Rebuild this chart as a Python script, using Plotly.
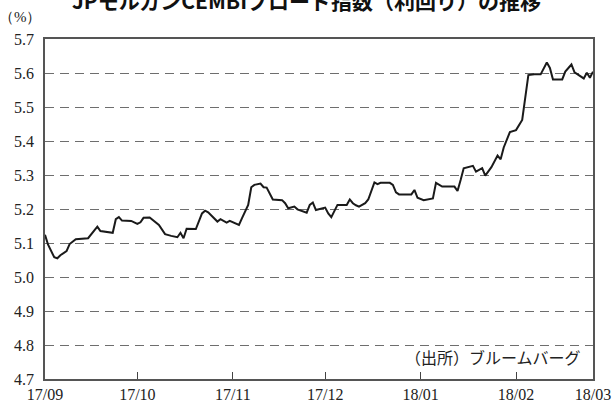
import pandas as pd
import plotly.graph_objects as go

# Days since 2017-09-01 and yield values (%)
day_offsets = [0, 1, 3, 4, 5, 7, 8, 10, 14, 17, 18, 22, 23, 24, 25, 28, 30, 31, 32, 34,
               37, 39, 41, 43, 44, 45, 46, 49, 51, 52, 53, 56, 57, 58, 59, 60, 63, 64, 66, 67,
               68, 70, 71, 72, 74, 77, 78, 79, 81, 82, 85, 86, 87, 88, 91, 92, 93, 95, 98, 99,
               100, 101, 102, 104, 105, 107, 108, 109, 112, 113, 114, 115, 119, 120, 121, 123, 126, 127, 129, 133,
               134, 135, 136, 139, 140, 142, 143, 145, 147, 148, 149, 151, 153, 155, 156, 157, 159, 161, 163, 164,
               165, 168, 169, 171, 172, 175, 176, 177, 178]
yields = [5.124, 5.095, 5.058, 5.055, 5.064, 5.076, 5.097, 5.111, 5.114, 5.148, 5.135, 5.130, 5.170, 5.176, 5.166, 5.165, 5.156, 5.161, 5.174, 5.175,
          5.153, 5.126, 5.121, 5.117, 5.130, 5.114, 5.142, 5.141, 5.187, 5.195, 5.190, 5.163, 5.170, 5.166, 5.160, 5.165, 5.153, 5.173, 5.212, 5.264,
          5.271, 5.275, 5.264, 5.263, 5.228, 5.226, 5.217, 5.202, 5.207, 5.199, 5.189, 5.212, 5.219, 5.197, 5.204, 5.187, 5.176, 5.212, 5.212, 5.228,
          5.217, 5.211, 5.207, 5.217, 5.228, 5.278, 5.273, 5.277, 5.277, 5.271, 5.249, 5.243, 5.243, 5.256, 5.233, 5.226, 5.231, 5.277, 5.266, 5.266,
          5.253, 5.285, 5.320, 5.327, 5.310, 5.320, 5.298, 5.323, 5.357, 5.346, 5.381, 5.426, 5.432, 5.462, 5.526, 5.594, 5.596, 5.596, 5.631, 5.615,
          5.581, 5.581, 5.604, 5.625, 5.602, 5.584, 5.601, 5.586, 5.604]

start_date = "2017-09-01"
end_date = "2018-02-26"
tick_dates = ["2017-09-01", "2017-10-01", "2017-11-01", "2017-12-01", "2018-01-01", "2018-02-01", "2018-02-26"]
tick_labels = ["17/09", "17/10", "17/11", "17/12", "18/01", "18/02", "18/03"]
y_ticks = [4.7, 4.8, 4.9, 5.0, 5.1, 5.2, 5.3, 5.4, 5.5, 5.6, 5.7]

dates = pd.Timestamp(start_date) + pd.to_timedelta(day_offsets, unit="D")

serif = "Liberation Serif"

fig = go.Figure()
fig.add_trace(go.Scatter(x=dates, y=yields, mode="lines",
                         line=dict(color="#1a1a1a", width=2), showlegend=False))

fig.update_layout(
    width=613, height=403,
    margin=dict(l=45, r=20, t=39, b=24),
    paper_bgcolor="white", plot_bgcolor="white",
    title=dict(text="<b>JPモルガンCEMBIブロード指数（利回り）の推移</b>",
               x=0.5, xref="container", y=0.995, yref="container",
               xanchor="center", yanchor="middle",
               font=dict(family="Noto Sans CJK JP", size=21, color="#111")),
    xaxis=dict(type="date", range=[start_date, end_date], automargin=False,
               tickvals=tick_dates, ticktext=tick_labels, ticklabeloverflow="allow",
               showgrid=False, ticks="inside", ticklen=7, tickcolor="#444", tickwidth=1.3,
               showline=True, linecolor="#555", linewidth=1.5, mirror=True,
               tickfont=dict(family=serif, size=16, color="#222"), zeroline=False),
    yaxis=dict(range=[4.7, 5.7], tickvals=y_ticks, tickformat=".1f", automargin=False,
               showgrid=True, gridcolor="#6e6e6e", gridwidth=1.3, griddash="9px,6px",
               showline=True, linecolor="#555", linewidth=1.5, mirror=True, ticks="",
               ticklabelstandoff=6,
               tickfont=dict(family=serif, size=16, color="#222"), zeroline=False),
    annotations=[
        dict(text="（%）", xref="paper", yref="paper", x=-0.045, y=1.065,
             xanchor="center", yanchor="middle", showarrow=False,
             font=dict(family=serif, size=15, color="#222")),
        dict(text="（出所）ブルームバーグ", xref="paper", yref="paper", x=0.982, y=0.065,
             xanchor="right", yanchor="middle", showarrow=False,
             font=dict(family="Noto Sans CJK JP", size=16, color="#222")),
    ],
)

fig.write_html("out.html", config={"displayModeBar": False},
               post_script="document.body.style.margin='0';")
